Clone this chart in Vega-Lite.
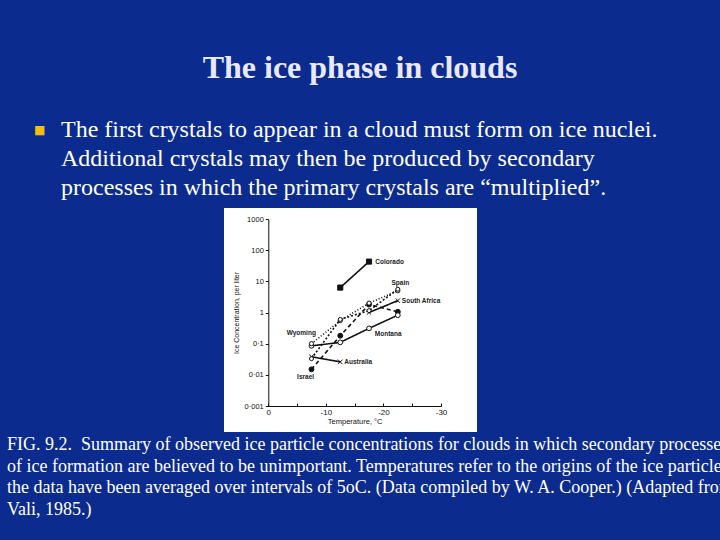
{
  "$schema": "https://vega.github.io/schema/vega-lite/v6.json",
  "background": "#0b2b8f",
  "padding": {"left": 7, "top": 52, "right": 0, "bottom": 40},
  "datasets": {
    "obs": [
      {"series": "Colorado", "temp": -12.5, "conc": 6.3},
      {"series": "Colorado", "temp": -17.5, "conc": 43},
      {"series": "Israel", "temp": -7.5, "conc": 0.015},
      {"series": "Israel", "temp": -12.5, "conc": 0.18},
      {"series": "Israel", "temp": -17.5, "conc": 1.8},
      {"series": "Israel", "temp": -22.5, "conc": 1.05},
      {"series": "Montana", "temp": -7.5, "conc": 0.085},
      {"series": "Montana", "temp": -12.5, "conc": 0.11},
      {"series": "Montana", "temp": -17.5, "conc": 0.31},
      {"series": "Montana", "temp": -22.5, "conc": 0.82},
      {"series": "Australia", "temp": -7.5, "conc": 0.038},
      {"series": "Australia", "temp": -12.5, "conc": 0.026},
      {"series": "South Africa", "temp": -17.5, "conc": 1.0},
      {"series": "South Africa", "temp": -22.5, "conc": 2.4},
      {"series": "Wyoming", "temp": -7.5, "conc": 0.1},
      {"series": "Wyoming", "temp": -12.5, "conc": 0.55},
      {"series": "Wyoming", "temp": -17.5, "conc": 2.0},
      {"series": "Wyoming", "temp": -22.5, "conc": 5.0},
      {"series": "Spain", "temp": -7.5, "conc": 0.033},
      {"series": "Spain", "temp": -12.5, "conc": 0.6},
      {"series": "Spain", "temp": -17.5, "conc": 1.15},
      {"series": "Spain", "temp": -22.5, "conc": 5.6}
    ],
    "labels": [
      {"name": "Colorado", "temp": -18.6, "conc": 43},
      {"name": "Spain", "temp": -21.4, "conc": 9.1},
      {"name": "South Africa", "temp": -23.2, "conc": 2.4},
      {"name": "Montana", "temp": -18.5, "conc": 0.21},
      {"name": "Wyoming", "temp": -3.2, "conc": 0.22},
      {"name": "Australia", "temp": -13.2, "conc": 0.025},
      {"name": "Israel", "temp": -5.0, "conc": 0.0083}
    ]
  },
  "title": {
    "text": "The ice phase in clouds",
    "anchor": "middle", "frame": "group", "dx": 9.5, "offset": 8,
    "baseline": "alphabetic", "font": "Liberation Serif", "fontSize": 32,
    "fontWeight": "bold", "color": "#e8e8ff"
  },
  "vconcat": [
    {
      "title": {
        "text": "■",
        "anchor": "start", "frame": "group", "dx": -190, "dy": 24, "offset": 0,
        "baseline": "middle", "font": "DejaVu Sans", "fontSize": 12,
        "fontWeight": "normal", "color": "#f2c00e"
      },
      "vconcat": [
        {
          "title": {
            "text": [
              "The first crystals to appear in a cloud must form on ice nuclei.",
              "Additional crystals may then be produced by secondary",
              "processes in which the primary crystals are “multiplied”."
            ],
            "anchor": "start", "frame": "group", "dx": -163, "offset": -11,
            "baseline": "alphabetic", "font": "Liberation Serif", "fontSize": 24,
            "fontWeight": "normal", "lineHeight": 29, "color": "#ffffff"
          },
          "vconcat": [
            {
              "width": 253,
              "height": 224,
              "title": {
                "text": [
                  "FIG. 9.2.\u00a0 Summary of observed ice particle concentrations for clouds in which secondary processes",
                  "of ice formation are believed to be unimportant. Temperatures refer to the origins of the ice particles;",
                  "the data have been averaged over intervals of 5oC. (Data compiled by W. A. Cooper.) (Adapted from",
                  "Vali, 1985.)"
                ],
                "orient": "bottom", "anchor": "start", "frame": "group", "dx": -217, "offset": 4,
                "baseline": "top", "font": "Liberation Serif", "fontSize": 18,
                "fontWeight": "normal", "lineHeight": 21.5, "color": "#ffffff"
              },
              "layer": [
                {
                  "data": {"name": "obs"},
                  "mark": {"type": "line", "color": "#111111", "strokeWidth": 1.6},
                  "encoding": {
                    "x": {
                      "field": "temp", "type": "quantitative",
                      "scale": {"domain": [0, -30], "range": [44.3, 217], "nice": false, "zero": false},
                      "axis": {
                        "title": "Temperature, °C", "offset": -26,
                        "values": [0, -5, -10, -15, -20, -25, -30],
                        "labelExpr": "datum.value % 10 == 0 ? '' + datum.value : ''",
                        "tickSize": -3, "labelPadding": 5, "labelFontSize": 8,
                        "titleFontSize": 7.5, "titlePadding": 1, "labelFlush": false
                      }
                    },
                    "y": {
                      "field": "conc", "type": "quantitative",
                      "scale": {"type": "log", "domain": [0.001, 1000], "range": [198, 11], "nice": false},
                      "axis": {
                        "title": "Ice Concentration, per liter", "offset": -44.3,
                        "values": [0.001, 0.01, 0.1, 1, 10, 100, 1000],
                        "format": "~g",
                        "labelExpr": "replace(datum.label, '.', '·')",
                        "tickSize": 3, "labelPadding": 2, "labelFontSize": 7.5,
                        "titleFontSize": 7, "titlePadding": 5
                      }
                    },
                    "detail": {"field": "series"},
                    "strokeDash": {
                      "field": "series", "type": "nominal", "legend": null,
                      "scale": {
                        "domain": ["Colorado", "Israel", "Montana", "Australia", "South Africa", "Wyoming", "Spain"],
                        "range": [[1, 0], [4, 3], [1, 0], [1, 0], [1, 0], [1, 2], [2, 2]]
                      }
                    }
                  }
                },
                {
                  "data": {"name": "obs"},
                  "mark": {"type": "point", "filled": true, "stroke": "#111111", "strokeWidth": 1, "opacity": 1},
                  "encoding": {
                    "x": {"field": "temp", "type": "quantitative"},
                    "y": {"field": "conc", "type": "quantitative"},
                    "shape": {
                      "field": "series", "type": "nominal", "legend": null,
                      "scale": {
                        "domain": ["Colorado", "Israel", "Montana", "Australia", "South Africa", "Wyoming", "Spain"],
                        "range": ["square", "circle", "circle", "M-1,-1L1,1M1,-1L-1,1", "M-1,-1L1,1M1,-1L-1,1", "circle", "circle"]
                      }
                    },
                    "fill": {
                      "field": "series", "type": "nominal", "legend": null,
                      "scale": {
                        "domain": ["Colorado", "Israel", "Montana", "Australia", "South Africa", "Wyoming", "Spain"],
                        "range": ["#111111", "#111111", "#ffffff", "#111111", "#111111", "#ffffff", "#ffffff"]
                      }
                    },
                    "size": {
                      "field": "series", "type": "nominal", "legend": null,
                      "scale": {
                        "domain": ["Colorado", "Israel", "Montana", "Australia", "South Africa", "Wyoming", "Spain"],
                        "range": [26, 16, 14, 12, 12, 16, 14]
                      }
                    }
                  }
                },
                {
                  "data": {"name": "labels"},
                  "mark": {"type": "text", "align": "left", "baseline": "middle", "font": "Liberation Sans", "fontSize": 6.5, "fontWeight": "bold", "color": "#222222"},
                  "encoding": {
                    "x": {"field": "temp", "type": "quantitative"},
                    "y": {"field": "conc", "type": "quantitative"},
                    "text": {"field": "name"}
                  }
                }
              ]
            }
          ]
        }
      ]
    }
  ],
  "config": {
    "view": {"fill": "#ffffff", "stroke": null},
    "axis": {
      "grid": false, "domainColor": "#111111", "tickColor": "#111111",
      "labelColor": "#111111", "titleColor": "#111111",
      "labelFont": "Liberation Sans", "titleFont": "Liberation Sans",
      "titleFontWeight": "normal", "domainWidth": 1, "tickWidth": 1
    }
  }
}
